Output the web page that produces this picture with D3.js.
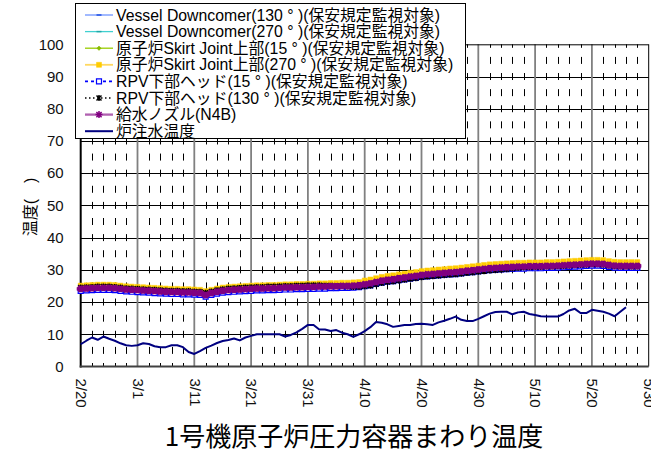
<!DOCTYPE html>
<html><head><meta charset="utf-8">
<script src="https://cdn.jsdelivr.net/npm/d3@7"></script>
<style>
html,body{margin:0;padding:0;background:#fff;}
svg{display:block;font-family:"Liberation Sans","Noto Sans CJK JP",sans-serif;}
</style></head>
<body>
<svg id="c" width="651" height="452"></svg>
<script>
// ---- data ----
const dateLabels = ["2/20","3/1","3/11","3/21","3/31","4/10","4/20","4/30","5/10","5/20","5/30"];
const dateTickIdx = [0,10,20,30,40,50,60,70,80,90,100];
const yTicks = [0,10,20,30,40,50,60,70,80,90,100];

const vesselDc130 = [23.9,24.0,24.1,24.2,24.2,24.2,24.1,23.9,23.7,23.6, 23.5,23.4,23.3,23.2,23.1,23.0,22.9,22.9,22.8,22.8, 22.7,22.6,22.1,22.6,23.0,23.3,23.5,23.6,23.7,23.8, 23.9,24.0,24.0,24.1,24.1,24.2,24.3,24.3,24.4,24.4, 24.5,24.5,24.6,24.6,24.7,24.7,24.8,24.8,24.9,25.0, 25.3,25.6,26.0,26.4,26.7,26.9,27.2,27.4,27.7,27.9, 28.2,28.4,28.5,28.7,28.8,29.0,29.1,29.3,29.5,29.7, 29.9,30.1,30.3,30.4,30.5,30.6,30.7,30.8,30.8,30.9, 30.9,30.9,31.0,31.0,31.1,31.2,31.3,31.4,31.5,31.6, 31.7,31.7,31.6,31.3,31.1,31.0,31.0,31.0,31.0];
const vesselDc270 = [23.7,23.8,23.9,24.0,24.0,24.0,23.9,23.7,23.5,23.4, 23.3,23.2,23.1,23.0,22.9,22.8,22.7,22.7,22.6,22.6, 22.5,22.4,22.0,22.4,22.8,23.1,23.3,23.4,23.5,23.6, 23.7,23.8,23.8,23.9,23.9,24.0,24.1,24.1,24.2,24.2, 24.3,24.3,24.4,24.4,24.5,24.5,24.6,24.6,24.7,24.8, 25.1,25.4,25.8,26.2,26.5,26.7,27.0,27.2,27.5,27.7, 28.0,28.2,28.3,28.5,28.6,28.8,28.9,29.1,29.3,29.5, 29.7,29.9,30.1,30.2,30.3,30.4,30.5,30.6,30.6,30.7, 30.7,30.7,30.8,30.8,30.9,31.0,31.1,31.2,31.3,31.4, 31.5,31.5,31.4,31.1,30.9,30.8,30.8,30.8,30.8];
const skirt15 = [25.2,25.3,25.4,25.5,25.5,25.4,25.3,25.1,24.9,24.8, 24.6,24.5,24.4,24.3,24.2,24.1,24.0,23.9,23.8,23.7, 23.5,23.4,23.0,23.4,23.8,24.1,24.3,24.4,24.5,24.6, 24.7,24.8,24.8,24.9,24.9,25.0,25.1,25.1,25.2,25.2, 25.3,25.3,25.4,25.4,25.5,25.5,25.6,25.6,25.7,25.8, 26.1,26.4,26.8,27.2,27.5,27.7,28.0,28.2,28.5,28.7, 29.0,29.2,29.3,29.5,29.6,29.8,29.9,30.1,30.3,30.5, 30.7,30.9,31.1,31.2,31.3,31.4,31.5,31.6,31.6,31.7, 31.7,31.7,31.8,31.8,31.9,32.0,32.1,32.2,32.3,32.4, 32.5,32.5,32.4,32.1,31.9,31.8,31.8,31.8,31.8];
const skirt270 = [25.1,25.2,25.3,25.4,25.4,25.4,25.3,25.1,24.9,24.8, 24.7,24.6,24.5,24.4,24.3,24.2,24.1,24.1,24.0,24.0, 23.9,23.8,23.4,23.8,24.2,24.5,24.7,24.8,24.9,25.0, 25.1,25.2,25.2,25.3,25.3,25.4,25.5,25.5,25.6,25.6, 25.7,25.7,25.8,25.8,25.9,25.9,26.0,26.0,26.1,26.2, 26.7,27.0,27.4,27.8,28.1,28.3,28.6,28.8,29.1,29.3, 29.6,29.8,29.9,30.1,30.2,30.4,30.5,30.7,30.9,31.1, 31.3,31.5,31.7,31.8,31.9,32.0,32.1,32.2,32.2,32.3, 32.3,32.3,32.4,32.4,32.5,32.6,32.7,32.8,32.9,33.0, 33.1,33.1,33.0,32.7,32.5,32.4,32.4,32.4,32.4];
const rpvHead15 = [23.5,23.6,23.7,23.8,23.8,23.8,23.7,23.5,23.3,23.2, 23.1,23.0,22.9,22.8,22.7,22.6,22.5,22.5,22.4,22.4, 22.3,22.2,21.7,22.2,22.6,22.9,23.1,23.2,23.3,23.4, 23.5,23.6,23.6,23.7,23.7,23.8,23.9,23.9,24.0,24.0, 24.1,24.1,24.2,24.2,24.3,24.3,24.4,24.4,24.5,24.6, 24.9,25.2,25.6,26.0,26.3,26.5,26.8,27.0,27.3,27.5, 27.8,28.0,28.1,28.3,28.4,28.6,28.7,28.9,29.1,29.3, 29.5,29.7,29.9,30.0,30.1,30.2,30.3,30.4,30.4,30.5, 30.5,30.5,30.6,30.6,30.7,30.8,30.9,31.0,31.1,31.2, 31.3,31.3,31.2,30.9,30.7,30.6,30.6,30.6,30.6];
const rpvHead130 = [24.5,24.6,24.7,24.8,24.8,24.8,24.7,24.5,24.3,24.2, 24.1,24.0,23.9,23.8,23.7,23.6,23.5,23.5,23.4,23.4, 23.3,23.2,22.9,23.3,23.7,24.0,24.2,24.3,24.4,24.5, 24.6,24.7,24.7,24.8,24.8,24.9,25.0,25.0,25.1,25.1, 25.2,25.2,25.2,25.1,25.1,25.0,25.0,24.8,24.7,24.7, 24.9,25.1,25.5,25.9,26.2,26.4,26.7,26.9,27.2,27.4, 27.7,27.9,28.0,28.2,28.3,28.5,28.6,28.8,29.0,29.2, 29.4,29.6,29.8,29.9,30.0,30.2,30.4,30.6,30.7,30.8, 30.9,30.9,31.0,31.0,31.1,31.2,31.3,31.4,31.5,31.6, 31.7,31.7,31.6,31.3,31.1,31.0,31.0,31.0,31.0];
const feedwaterN4B = [24.1,24.2,24.3,24.4,24.4,24.4,24.3,24.1,23.9,23.8, 23.7,23.6,23.5,23.4,23.3,23.2,23.1,23.1,23.0,23.0, 22.9,22.8,22.2,22.8,23.2,23.5,23.7,23.8,23.9,24.0, 24.1,24.2,24.2,24.3,24.3,24.4,24.5,24.5,24.6,24.6, 24.7,24.7,24.8,24.8,24.9,24.9,25.0,25.0,25.1,25.2, 25.5,25.8,26.2,26.6,26.9,27.1,27.4,27.6,27.9,28.1, 28.4,28.6,28.7,28.9,29.0,29.2,29.3,29.5,29.7,29.9, 30.1,30.3,30.5,30.6,30.7,30.8,30.9,31.0,31.0,31.1, 31.1,31.1,31.2,31.2,31.3,31.4,31.5,31.6,31.7,31.8, 31.9,31.9,31.8,31.5,31.3,31.2,31.2,31.2,31.2];
const injectionTemp = [6.9,8.0,9.0,8.3,9.3,8.6,8.0,7.2,6.6,6.4, 6.6,7.2,7.0,6.3,6.0,6.0,6.6,6.6,6.0,4.5, 3.9,4.8,5.8,6.5,7.3,7.9,8.2,8.7,8.1,9.0, 9.5,10.0,10.0,10.0,10.0,10.0,9.3,9.8,10.6,11.7, 12.9,12.9,11.5,11.5,11.0,11.3,10.5,10.0,9.2,10.0, 11.0,12.2,13.8,13.6,13.1,12.3,12.6,12.9,12.9,13.2, 13.3,13.1,12.9,13.7,14.2,14.8,15.5,14.5,14.1,14.1, 14.8,15.6,16.4,16.9,17.0,17.0,16.2,16.8,17.0,16.3, 16.0,15.6,15.5,15.5,15.5,16.3,17.4,17.9,16.6,16.6, 17.6,17.3,17.0,16.4,15.6,17.0,18.4];

const seriesNames = [
  "Vessel Downcomer(130 ° )(保安規定監視対象)",
  "Vessel Downcomer(270 ° )(保安規定監視対象)",
  "原子炉Skirt Joint上部(15 ° )(保安規定監視対象)",
  "原子炉Skirt Joint上部(270 ° )(保安規定監視対象)",
  "RPV下部ヘッド(15 ° )(保安規定監視対象)",
  "RPV下部ヘッド(130 ° )(保安規定監視対象)",
  "給水ノズル(N4B)",
  "炉注水温度"
];
const seriesValues = [vesselDc130, vesselDc270, skirt15, skirt270, rpvHead15, rpvHead130, feedwaterN4B, injectionTemp];
const titleText = "1号機原子炉圧力容器まわり温度";
const yLabelText = "温度(　)";

// ---- styles ----
const styles = [
  {line:"#6f94ff", w:1, dash:null, marker:"dash", mc:"#1f4fe0"},
  {line:"#40d0d0", w:1, dash:null, marker:"dash", mc:"#20a8a8"},
  {line:"#99cc00", w:1, dash:null, marker:"dot", mc:"#88bb00"},
  {line:"#ffd860", w:1.5, dash:null, marker:"square", mc:"#ffcc00"},
  {line:"#0000ff", w:1.5, dash:"3,3", marker:"hsquare", mc:"#0000ff"},
  {line:"#000000", w:1, dash:"1.5,2.5", marker:"times", mc:"#000000"},
  {line:"#b060b0", w:2, dash:null, marker:"star", mc:"#800080"},
  {line:"#000080", w:2, dash:null, marker:null, mc:null}
];

const svg = d3.select("#c");
const x = d3.scaleLinear().domain([0,100]).range([80.7,648.7]);
const y = d3.scaleLinear().domain([0,100]).range([366.5,44.3]);

// ---- grid ----
const grid = svg.append("g");
const minorIdx = d3.range(0,101,2).filter(d => d % 10 !== 0);
const period = (y(0) - y(10)) / 2;
const dashLen = 7;
grid.selectAll("line.minor").data(minorIdx).join("line")
  .attr("x1", d => Math.round(x(d)) + 0.5).attr("x2", d => Math.round(x(d)) + 0.5)
  .attr("y1", y(100)).attr("y2", y(0))
  .attr("stroke", "#000").attr("stroke-width", 1)
  .attr("stroke-dasharray", dashLen + "," + (period - dashLen))
  .attr("stroke-dashoffset", dashLen / 2);
grid.selectAll("line.h").data(yTicks.filter(d => d > 0 && d < 100)).join("line")
  .attr("x1", x(0)).attr("x2", x(100))
  .attr("y1", d => Math.round(y(d)) + 0.5).attr("y2", d => Math.round(y(d)) + 0.5)
  .attr("stroke", "#000").attr("stroke-width", 1);
grid.selectAll("line.v").data(dateTickIdx.filter(d => d > 0 && d < 100)).join("line")
  .attr("x1", d => x(d)).attr("x2", d => x(d))
  .attr("y1", y(100)).attr("y2", y(0))
  .attr("stroke", "#808080").attr("stroke-width", 1.8);
// border
svg.append("line").attr("x1", x(0)).attr("x2", x(100)).attr("y1", y(100)+0.5).attr("y2", y(100)+0.5).attr("stroke","#000");
svg.append("line").attr("x1", x(100)).attr("x2", x(100)).attr("y1", y(100)).attr("y2", y(0)).attr("stroke","#000");

// ---- axes ----
const yAxis = svg.append("g").attr("transform", `translate(${x(0)},0)`)
  .call(d3.axisLeft(y).tickValues(yTicks).tickSize(0).tickPadding(17));
yAxis.select(".domain").remove();
yAxis.selectAll("text").attr("font-size", 15).attr("font-family", "Liberation Sans").attr("fill", "#111");

const xAxis = svg.append("g").attr("transform", `translate(0,${y(0)})`)
  .call(d3.axisBottom(x).tickValues(dateTickIdx).tickFormat((d,i) => dateLabels[i]).tickSize(0));
xAxis.select(".domain").remove();
xAxis.selectAll("text")
  .attr("y", 0).attr("x", 12).attr("dy", "0.35em")
  .attr("transform", "rotate(90)")
  .style("text-anchor", "start")
  .attr("font-size", 15).attr("font-family", "Liberation Sans").attr("fill", "#111");

svg.append("line").attr("x1", x(0)).attr("x2", x(0)).attr("y1", y(100)).attr("y2", y(0)+1).attr("stroke","#000").attr("stroke-width",2);
svg.append("line").attr("x1", x(0)-1).attr("x2", x(100)).attr("y1", y(0)).attr("y2", y(0)).attr("stroke","#404040").attr("stroke-width",2);

// ---- markers ----
function markerPath(type) {
  switch (type) {
    case "dash": return "M-2.5,0H2.5";
    case "dot": return "M-2.2,0L0,-2.2L2.2,0L0,2.2Z";
    case "square": return "M-2.5,-2.5H2.5V2.5H-2.5Z";
    case "hsquare": return "M-2.5,-2.5H2.5V2.5H-2.5Z";
    case "times": return "M-2.5,-2.5L2.5,2.5M-2.5,2.5L2.5,-2.5M0,-3V3";
    case "star": return "M-4,0H4M0,-3.2V3.2M-2.6,-2.6L2.6,2.6M-2.6,2.6L2.6,-2.6";
    case "starLegend": return "M-3.5,0H3.5M0,-3.5V3.5M-2.6,-2.6L2.6,2.6M-2.6,2.6L2.6,-2.6";
  }
  return "";
}
function drawMarker(g, type, color, legend) {
  const p = g.append("path").attr("d", markerPath(type === "star" && legend ? "starLegend" : type));
  if (type === "dot" || type === "square") p.attr("fill", color).attr("stroke", color).attr("stroke-width", 0.5);
  else if (type === "hsquare") p.attr("fill", "#fff").attr("stroke", color).attr("stroke-width", 1.2);
  else if (type === "star") p.attr("fill", "none").attr("stroke", color).attr("stroke-width", legend ? 1.5 : 3.2);
  else p.attr("fill", "none").attr("stroke", color).attr("stroke-width", 1.5);
}

// ---- series ----
const plot = svg.append("g");
const lineGen = d3.line().x((d,i) => x(i)).y(d => y(d));
seriesValues.forEach((vals, s) => {
  const st = styles[s];
  const g = plot.append("g");
  g.append("path").attr("d", lineGen(vals)).attr("fill","none")
    .attr("stroke", st.line).attr("stroke-width", st.w)
    .attr("stroke-dasharray", st.dash).attr("stroke-linejoin","round");
  if (st.marker) {
    vals.forEach((v,i) => {
      const mg = g.append("g").attr("transform", `translate(${x(i)},${y(v)})`);
      drawMarker(mg, st.marker, st.mc, false);
    });
  }
});

// ---- legend ----
const lg = svg.append("g");
lg.append("rect").attr("x", 75.5).attr("y", 3.5).attr("width", 390).attr("height", 135)
  .attr("fill", "#fff").attr("stroke", "#000").attr("stroke-width", 1);
seriesNames.forEach((name, s) => {
  const st = styles[s];
  const cy = 15 + s * 16.6;
  lg.append("line").attr("x1", 85).attr("x2", 113).attr("y1", cy).attr("y2", cy)
    .attr("stroke", st.line).attr("stroke-width", s === 7 ? 2 : st.w + 0.3)
    .attr("stroke-dasharray", st.dash);
  if (st.marker) {
    const mg = lg.append("g").attr("transform", `translate(99,${cy})`);
    drawMarker(mg, st.marker, st.mc, true);
  }
  lg.append("text").attr("x", 116).attr("y", cy).attr("dy", "0.36em")
    .attr("font-size", 15.8).attr("fill", "#000").text(name);
});

// ---- labels ----
svg.append("text").attr("transform", "translate(30,207) rotate(-90)")
  .attr("text-anchor", "middle").attr("dy", "0.35em").attr("font-size", 16).text(yLabelText);
svg.append("text").attr("x", 354).attr("y", 446).attr("text-anchor", "middle")
  .attr("font-size", 26).attr("font-family", "Noto Sans CJK JP").text(titleText);
</script>
</body></html>
